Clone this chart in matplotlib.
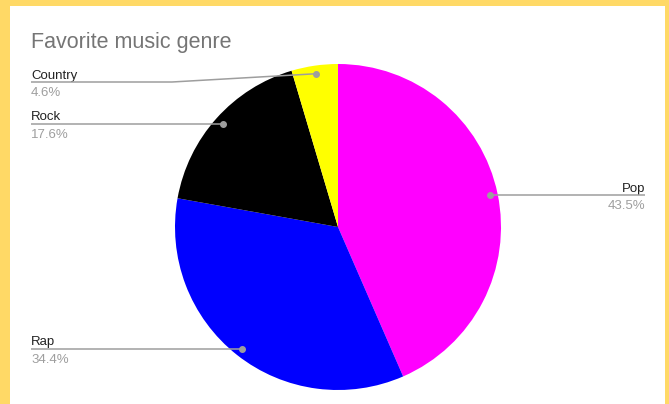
import matplotlib.pyplot as plt
import matplotlib.patches as mpatches
import numpy as np

plt.rcParams['font.family'] = ['Liberation Sans', 'DejaVu Sans']

genres = ["Pop", "Rap", "Rock", "Country"]
shares = [43.5, 34.4, 17.6, 4.6]
colors = ["#ff00ff", "#0000ff", "#000000", "#ffff00"]
title = "Favorite music genre"

W, H = 669, 404
fig = plt.figure(figsize=(W / 100, H / 100), dpi=100)
fig.patch.set_facecolor("#ffd966")
ax = fig.add_axes([0, 0, 1, 1])
ax.set_xlim(0, W)
ax.set_ylim(0, H)
ax.axis('off')

def py(y):
  return H - y

# white card
ax.add_patch(mpatches.Rectangle((10, 0), 655, H - 6, facecolor="white", edgecolor="none", zorder=0))

cx, cy, r = 338, py(227), 163
wedges, _ = ax.pie(shares, colors=colors, startangle=90, counterclock=False,
                   center=(cx, cy), radius=r, wedgeprops=dict(linewidth=0), frame=True)
ax.set_xlim(0, W)
ax.set_ylim(0, H)
ax.set_aspect('auto')
ax.axis('off')

ax.text(31, py(48), title, fontsize=15.5, color="#757575", ha="left", va="baseline")

# label layout: (side, line y in px, elbow x or None)
layout = {
  "Pop": ("right", None, None),
  "Rap": ("left", None, None),
  "Rock": ("left", None, None),
  "Country": ("left", 82, 172),
}
line_col = "#9e9e9e"
for w, g, s in zip(wedges, genres, shares):
  mid = np.radians((w.theta1 + w.theta2) / 2)
  dx = cx + 0.95 * r * np.cos(mid)
  dy = cy + 0.95 * r * np.sin(mid)
  side, ly, ex = layout[g]
  ly = dy if ly is None else py(ly)
  if side == "left":
    tx = 31
    if ex is None:
      xs, ys = [tx, dx], [ly, dy]
    else:
      xs, ys = [tx, ex, dx], [ly, ly, dy]
    ha = "left"
  else:
    tx = 645
    xs, ys = [dx, tx], [dy, ly]
    ha = "right"
  ax.plot(xs, ys, color=line_col, lw=1.1, zorder=5, solid_capstyle="butt")
  ax.plot([dx], [dy], "o", color=line_col, ms=4, zorder=6)
  ax.text(tx, ly + 3.5, g, fontsize=9.5, color="#222222", ha=ha, va="baseline")
  ax.text(tx, ly - 14, "%.1f%%" % s, fontsize=9.5, color="#9e9e9e", ha=ha, va="baseline")

fig.savefig("out.png", dpi=100, facecolor=fig.get_facecolor())
